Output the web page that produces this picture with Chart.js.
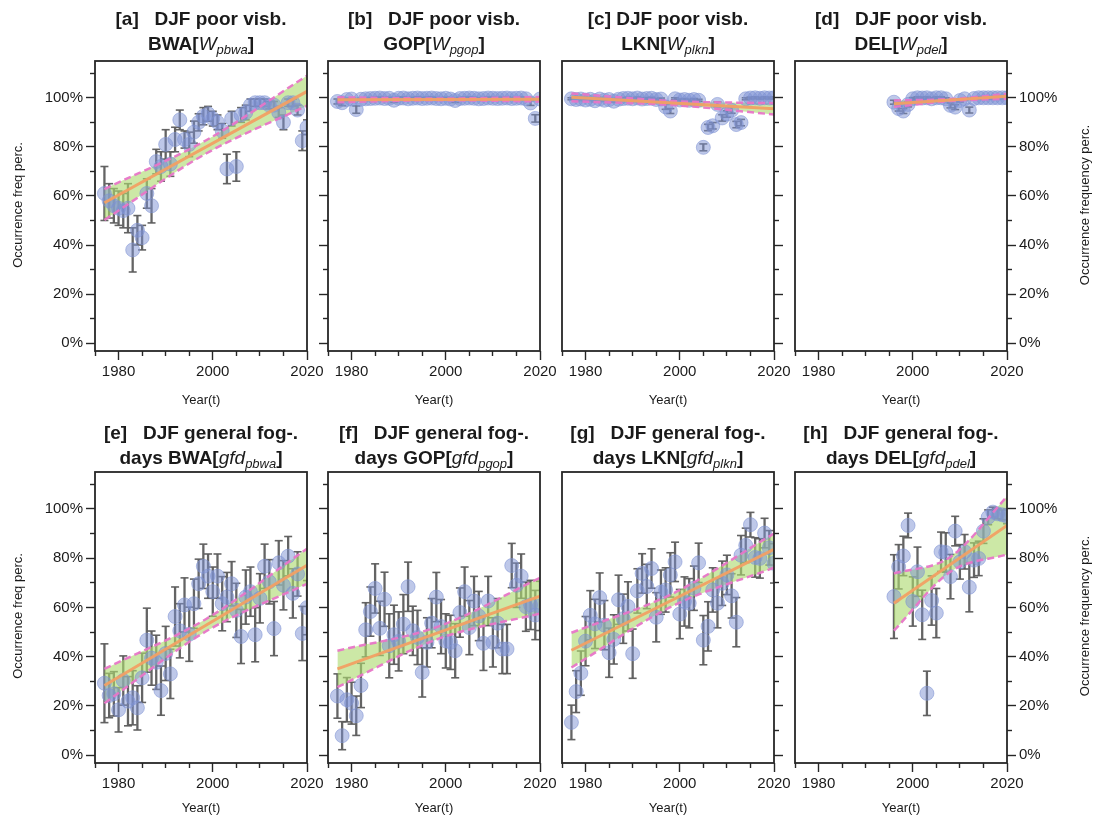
<!DOCTYPE html>
<html><head><meta charset="utf-8">
<script src="https://cdn.jsdelivr.net/npm/chart.js@4"></script>
<style>
html,body{margin:0;padding:0;background:#fff;}
body{width:1097px;height:822px;position:relative;overflow:hidden;font-family:"Liberation Sans",Arial,sans-serif;color:#1a1a1a;}
canvas{position:absolute;}
.ttl{position:absolute;width:320px;text-align:center;font-weight:bold;font-size:19px;line-height:25px;white-space:pre;color:#1a1a1a;}
.ttl i{font-weight:normal;font-style:italic;}
.ttl sub{font-size:13px;font-style:italic;font-weight:normal;vertical-align:-4px;line-height:0;}
.xl{position:absolute;width:120px;text-align:center;font-size:13px;line-height:16px;color:#1a1a1a;}
.yl{position:absolute;width:300px;text-align:center;font-size:13px;line-height:16px;color:#1a1a1a;transform:rotate(-90deg);}
</style></head><body>
<script>
// ---------- categories ----------
const YEARS_77_20 = [1977,1978,1979,1980,1981,1982,1983,1984,1985,1986,1987,1988,1989,1990,1991,1992,1993,1994,1995,1996,1997,1998,1999,2000,2001,2002,2003,2004,2005,2006,2007,2008,2009,2010,2011,2012,2013,2014,2015,2016,2017,2018,2019,2020];
const YEARS_96_20 = [1996,1997,1998,1999,2000,2001,2002,2003,2004,2005,2006,2007,2008,2009,2010,2011,2012,2013,2014,2015,2016,2017,2018,2019,2020];

// ---------- axis ticks ----------
const X_MIN = 1975, X_MAX = 2020, X_STEP = 5, X_LABEL_EVERY = 20;
const Y_MIN = -3.2, Y_MAX = 115, Y_STEP = 10, Y_LABELS = [0,20,40,60,80,100];

// ---------- [a] DJF poor visb. BWA ----------
const valA = [61,58,56,55,54,55,38,46,43,61,56,74,72,81,73,83,91,83,81,86,90,92.5,93.5,91.5,90,86.5,71,91.5,72,93,94,97,98,98,98,97,97,94,90,98,98,95,82.5,88];
const errA = [11,7,7,7,7,10,9,6,5,6,7,5,6,6,5,5,4,3.5,5,4.5,3.5,3.5,3,3,3,3,6,3,6,3,3,2.5,1.5,1.5,1.5,1.5,1.5,2,3,1.5,1.5,2,4,3];
const regXA = [1977,2020], regA = [57.2,102.6];
const bandXA = [1977,1998.5,2020], upA = [62.8,82.6,109], loA = [50.2,77.2,96.8];

// ---------- [b] DJF poor visb. GOP ----------
const valB = [98.5,98.0,99.3,99.5,95.2,99.4,99.6,99.7,99.8,99.9,99.7,99.8,99.0,99.8,99.9,99.6,99.8,99.9,99.7,99.8,99.9,99.7,99.6,99.8,99.5,98.9,99.7,99.8,99.9,99.8,99.6,99.7,99.9,99.8,99.7,99.8,99.9,99.7,99.8,99.9,99.6,97.9,91.6,99.5];
const errB = [1,1.2,0.4,0.4,1.5,0.4,0.4,0.4,0.4,0.4,0.4,0.4,0.9,0.4,0.4,0.4,0.4,0.4,0.4,0.4,0.4,0.4,0.4,0.4,0.4,0.8,0.4,0.4,0.4,0.4,0.4,0.4,0.4,0.4,0.4,0.4,0.4,0.4,0.4,0.4,0.4,1,1.5,0.4];
const regXB = [1977,2020], regB = [99.2,99.4];
const bandXB = [1977,1998.5,2020], upB = [100.2,99.7,100.3], loB = [98.2,99.0,98.5];

// ---------- [c] DJF poor visb. LKN ----------
const valC = [99.6,99.3,99.5,99.1,99.4,98.8,99.5,99.0,99.3,98.6,99.4,99.7,99.8,99.6,99.9,99.5,99.7,99.8,99.3,99.5,96.3,94.6,99.6,99.1,99.3,99.0,99.3,99.0,79.8,87.9,88.6,97.3,91.8,93.4,94.9,89.1,89.9,99.6,99.9,100,99.8,100,99.9,100];
const errC = [0.4,0.4,0.4,0.4,0.4,0.4,0.4,0.4,0.4,0.4,0.4,0.4,0.4,0.4,0.4,0.4,0.4,0.4,0.4,0.4,1,1,0.4,0.4,0.4,0.4,0.4,0.4,1.4,1.3,1.3,1,1.3,1.3,1.2,1.3,1.3,0.4,0.4,0.4,0.4,0.4,0.4,0.4];
const regXC = [1977,2020], regC = [100.2,95.5];
const bandXC = [1977,1998.5,2020], upC = [101.8,98.65,97.8], loC = [98.6,97.05,93.2];

// ---------- [d] DJF poor visb. DEL ----------
const valD = [98.2,95.6,94.6,97.3,99.6,100,99.9,100,99.6,100,100,99.6,96.9,96.2,98.9,99.6,95.0,99.7,100,100,100,100,100,100,100];
const errD = [0.8,1,1,1,0.5,0.4,0.4,0.4,0.4,0.4,0.4,0.4,1,1,0.6,0.4,1.2,0.4,0.4,0.4,0.4,0.4,0.4,0.4,0.4];
const regXD = [1996,2020], regD = [97.6,100.6];
const bandXD = [1996,2008,2020], upD = [98.9,99.5,101.6], loD = [96.3,98.7,99.6];

// ---------- [e] DJF general fog-days BWA ----------
const valE = [29.2,24.2,24.9,18.4,30.3,21.9,23.3,19.2,31.4,46.7,39.4,37.7,26.2,41.3,33,56.3,50.5,61,49.1,61.5,69.6,76.7,72.7,66.4,72.7,61.5,64.2,69.6,58.8,48.2,64.2,66.4,48.9,63.7,76.7,70.4,51.4,78.1,69,80.8,65.7,73.6,49.4,59.9];
const errE = [16,9,9,9,10,10,11,9,10,13,11,11,10,11,10,12,11,11,11,10,10,9,9,10,9,11,10,9,11,11,11,10,11,10,9,9,11,9,10,8,10,9,11,11];
const regXE = [1977,2020], regE = [28.3,77.1];
const bandXE = [1977,1998.5,2020], upE = [35,55.2,83.8], loE = [21.1,50.2,69.6];

// ---------- [f] DJF general fog-days GOP ----------
const valF = [24,7.9,22.5,21.1,16,28.3,50.9,58.3,67.7,51.5,63.3,44.4,48.9,46.2,53.2,68.4,50.5,47.8,33.6,45.8,53.6,64.2,52.2,46.4,45.8,42.4,57.9,66.4,51.8,62.6,56.5,45.4,62.6,45.8,53.6,43.1,43.1,77,69,72.7,60.3,61,56.9,60.6];
const errF = [9,5.7,9,8.5,8,9,11,10,10,11,11,13,12,12,12,10,10,11,10,10,10,10,11,11,11,11,10,10,11,10,10,11,10,10,10,10,10,9,9,9,10,10,10,10];
const regXF = [1977,2020], regF = [35,64.6];
const bandXF = [1977,1998.5,2020], upF = [42.4,52.3,72], loF = [27.6,47.3,57.5];

// ---------- [g] DJF general fog-days LKN ----------
const valG = [13.3,25.8,33.3,46.3,56.8,53.3,64,52.8,41.6,47,63.1,55.4,60.4,41.2,66.7,73.8,68.5,75.8,56,66.2,67.1,73.2,78.5,57.3,62.4,61.7,67.8,78.1,46.7,52.3,67.1,61.7,69.8,73.2,64.7,54,81.2,85.2,93.6,80.3,79.9,90.2,84.2,77.9];
const errG = [7,8.5,9,10,10,10,10,10,10,10,10,10,10,10,9,8,9,8,10,9,9,9,8,10,10,10,9,8,10,10,9,10,9,8,9,10,8,7,5,8,8,6,7,8];
const regXG = [1977,2020], regG = [42.6,83.6];
const bandXG = [1977,1998.5,2020], upG = [49.7,65.6,90], loG = [35.6,60.6,76.1];

// ---------- [h] DJF general fog-days DEL ----------
const valH = [64.4,76.5,80.9,93.3,62.4,74.5,57,25.1,62.8,57.7,82.6,82.3,72.5,91,78.5,82.6,68.2,79.2,79.9,91,96.6,98.7,98,97.6,97];
const errH = [17,9,8,5,10,10,10,9,10,10,8,8,9,6,7,7,10,7,7,5,3,2,2,2,3];
const regXH = [1996,2020], regH = [61.7,93.3];
const bandXH = [1996,2008,2020], upH = [73.8,80.5,105], loH = [50.6,74.5,81.5];

// ---------- styles ----------
const C_ERR = 'rgba(92,92,92,0.95)';
const C_PT = 'rgba(125,145,212,0.5)';
const C_PTE = 'rgba(125,145,212,0.55)';
const C_BAND = 'rgba(172,218,112,0.62)';
const C_PINK = 'rgba(232,118,200,0.95)';
const C_ORANGE = 'rgba(242,160,100,0.95)';
const C_AX = '#262626';

Chart.defaults.font.family = '"Liberation Sans", Arial, sans-serif';

const PW = 212, SIDE = 70, TOPPAD = 10, XAX = 40, BOTPAD = 5;
const panels = [
  {years:YEARS_77_20, val:valA, err:errA, regX:regXA, reg:regA, bandX:bandXA, up:upA, lo:loA, side:'left',  labels:true,  left:95,  top:59,  h:292},
  {years:YEARS_77_20, val:valB, err:errB, regX:regXB, reg:regB, bandX:bandXB, up:upB, lo:loB, side:'left',  labels:false, left:328, top:59,  h:292},
  {years:YEARS_77_20, val:valC, err:errC, regX:regXC, reg:regC, bandX:bandXC, up:upC, lo:loC, side:'right', labels:false, left:562, top:59,  h:292},
  {years:YEARS_96_20, val:valD, err:errD, regX:regXD, reg:regD, bandX:bandXD, up:upD, lo:loD, side:'right', labels:true,  left:795, top:59,  h:292},
  {years:YEARS_77_20, val:valE, err:errE, regX:regXE, reg:regE, bandX:bandXE, up:upE, lo:loE, side:'left',  labels:true,  left:95,  top:470, h:293},
  {years:YEARS_77_20, val:valF, err:errF, regX:regXF, reg:regF, bandX:bandXF, up:upF, lo:loF, side:'left',  labels:false, left:328, top:470, h:293},
  {years:YEARS_77_20, val:valG, err:errG, regX:regXG, reg:regG, bandX:bandXG, up:upG, lo:loG, side:'right', labels:false, left:562, top:470, h:293},
  {years:YEARS_96_20, val:valH, err:errH, regX:regXH, reg:regH, bandX:bandXH, up:upH, lo:loH, side:'right', labels:true,  left:795, top:470, h:293}
];

const framePlugin = {
  id:'frame',
  afterDraw(chart){
    const {ctx, chartArea:a} = chart;
    ctx.save();
    ctx.strokeStyle = C_AX; ctx.lineWidth = 1.8;
    ctx.strokeRect(a.left, a.top, a.right - a.left, a.bottom - a.top);
    ctx.restore();
  }
};

function makeChart(p){
  const cw = PW + 2*SIDE, ch = p.h + TOPPAD + XAX + BOTPAD;
  const cv = document.createElement('canvas');
  cv.width = cw; cv.height = ch;
  cv.style.width = cw + 'px'; cv.style.height = ch + 'px';
  cv.style.left = (p.left - SIDE) + 'px'; cv.style.top = (p.top - TOPPAD) + 'px';
  document.body.appendChild(cv);

  const stems = [], caps = [], pts = [];
  p.years.forEach((yr, i) => {
    const v = p.val[i], e = p.err[i];
    stems.push({x:yr, y:v - e}, {x:yr, y:v + e}, {x:yr, y:null});
    caps.push({x:yr, y:v - e}, {x:yr, y:v + e});
    pts.push({x:yr, y:v});
  });
  const band = arr => p.bandX.map((x, i) => ({x, y:arr[i]}));
  const reg = p.regX.map((x, i) => ({x, y:p.reg[i]}));
  const isLeft = p.side === 'left';

  new Chart(cv, {
    type:'line',
    data:{datasets:[
      {data:stems, borderColor:C_ERR, borderWidth:2.3, pointRadius:0, spanGaps:false, fill:false, order:6},
      {data:caps, showLine:false, pointStyle:'line', pointRadius:4, pointBorderWidth:1.6, pointBorderColor:C_ERR, pointBackgroundColor:C_ERR, order:5},
      {data:band(p.up), borderWidth:0, borderColor:'rgba(0,0,0,0)', pointRadius:0, fill:'+1', backgroundColor:C_BAND, cubicInterpolationMode:'monotone', order:4},
      {data:band(p.lo), borderWidth:0, borderColor:'rgba(0,0,0,0)', pointRadius:0, fill:false, cubicInterpolationMode:'monotone', order:4},
      {data:pts, showLine:false, pointRadius:7, pointBackgroundColor:C_PT, pointBorderColor:C_PTE, pointBorderWidth:1, order:3},
      {data:band(p.up), borderColor:C_PINK, borderWidth:2.5, borderDash:[7,4], pointRadius:0, fill:false, cubicInterpolationMode:'monotone', order:2},
      {data:band(p.lo), borderColor:C_PINK, borderWidth:2.5, borderDash:[7,4], pointRadius:0, fill:false, cubicInterpolationMode:'monotone', order:2},
      {data:reg, borderColor:C_ORANGE, borderWidth:3, pointRadius:0, fill:false, order:1}
    ]},
    options:{
      responsive:false, animation:false, devicePixelRatio:1, events:[],
      layout:{padding:{top:TOPPAD, bottom:BOTPAD, left:isLeft ? 0 : SIDE, right:isLeft ? SIDE : 0}},
      plugins:{legend:{display:false}, tooltip:{enabled:false}, colors:{enabled:false}},
      scales:{
        x:{type:'linear', min:X_MIN, max:X_MAX, border:{display:false},
          grid:{drawOnChartArea:false, drawTicks:true, tickLength:9, tickWidth:1.4, tickColor:C_AX,
            tickBorderDash: c => (c.tick && c.tick.value % X_LABEL_EVERY === 0) ? [] : [5, 20]},
          ticks:{stepSize:X_STEP, autoSkip:false, maxRotation:0, minRotation:0, padding:3, color:'#1a1a1a', font:{size:15},
            callback: v => (v % X_LABEL_EVERY === 0) ? String(v) : ''},
          afterFit: s => { s.height = XAX; }
        },
        y:{type:'linear', position:p.side, min:Y_MIN, max:Y_MAX, border:{display:false},
          grid:{drawOnChartArea:false, drawTicks:true, tickLength:9, tickWidth:1.4, tickColor:C_AX,
            tickBorderDash: c => (c.tick && Y_LABELS.includes(c.tick.value)) ? [] : (isLeft ? [5, 4] : [5, 20]),
            tickBorderDashOffset: c => (c.tick && Y_LABELS.includes(c.tick.value)) ? 0 : (isLeft ? 5 : 0)},
          ticks:{stepSize:Y_STEP, includeBounds:false, autoSkip:false, padding:3, color:'#1a1a1a', font:{size:15},
            callback: v => (p.labels && Y_LABELS.includes(v)) ? v + '%' : ''},
          afterFit: s => { s.width = SIDE; }
        }
      }
    },
    plugins:[framePlugin]
  });
}
panels.forEach(makeChart);

// ---------- text ----------
const titles = [
  ['[a]   DJF poor visb.', 'BWA[<i>W</i><sub>pbwa</sub>]', 201, 18],
  ['[b]   DJF poor visb.', 'GOP[<i>W</i><sub>pgop</sub>]', 434, 18],
  ['[c] DJF poor visb.', 'LKN[<i>W</i><sub>plkn</sub>]', 668, 18],
  ['[d]   DJF poor visb.', 'DEL[<i>W</i><sub>pdel</sub>]', 901, 18],
  ['[e]   DJF general fog-.', 'days BWA[<i>gfd</i><sub>pbwa</sub>]', 201, 432],
  ['[f]   DJF general fog-.', 'days GOP[<i>gfd</i><sub>pgop</sub>]', 434, 432],
  ['[g]   DJF general fog-.', 'days LKN[<i>gfd</i><sub>plkn</sub>]', 668, 432],
  ['[h]   DJF general fog-.', 'days DEL[<i>gfd</i><sub>pdel</sub>]', 901, 432]
];
titles.forEach(t => {
  const d = document.createElement('div');
  d.className = 'ttl';
  d.style.left = (t[2] - 160) + 'px';
  d.style.top = (t[3] - 12.5) + 'px';
  d.innerHTML = '<div style="height:25px">' + t[0] + '</div><div style="height:25px">' + t[1] + '</div>';
  document.body.appendChild(d);
});
[[201,400],[434,400],[668,400],[901,400],[201,808],[434,808],[668,808],[901,808]].forEach(c => {
  const d = document.createElement('div');
  d.className = 'xl'; d.textContent = 'Year(t)';
  d.style.left = (c[0] - 60) + 'px'; d.style.top = (c[1] - 8) + 'px';
  document.body.appendChild(d);
});
[['Occurrence freq perc.', 18, 205], ['Occurrence freq perc.', 18, 616],
 ['Occurrence frequency perc.', 1085, 205], ['Occurrence frequency perc.', 1085, 616]].forEach(c => {
  const d = document.createElement('div');
  d.className = 'yl'; d.textContent = c[0];
  d.style.left = (c[1] - 150) + 'px'; d.style.top = (c[2] - 8) + 'px';
  document.body.appendChild(d);
});
</script>
</body></html>
